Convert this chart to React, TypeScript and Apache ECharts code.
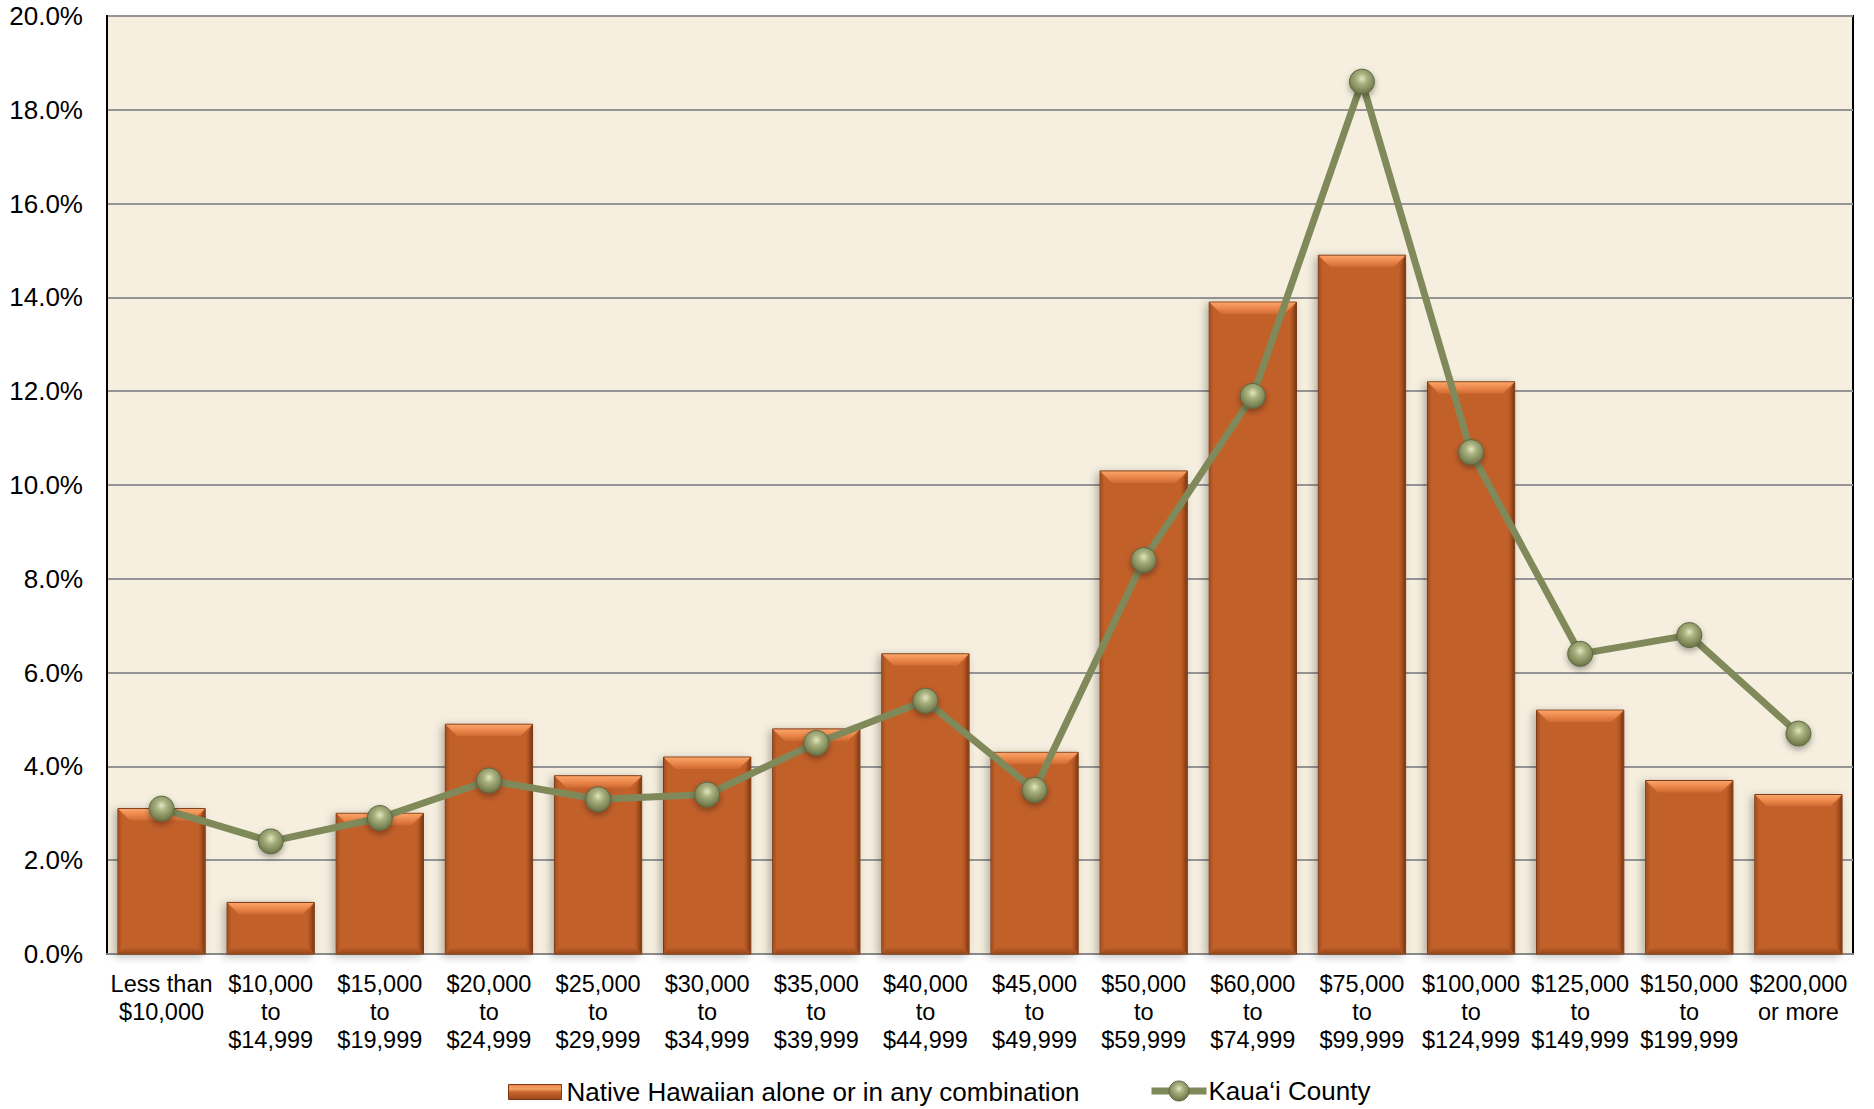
import React, { useEffect, useRef } from "react";
import * as echarts from "echarts";

const categories: string[] = [
  "Less than\n$10,000",
  "$10,000\nto\n$14,999",
  "$15,000\nto\n$19,999",
  "$20,000\nto\n$24,999",
  "$25,000\nto\n$29,999",
  "$30,000\nto\n$34,999",
  "$35,000\nto\n$39,999",
  "$40,000\nto\n$44,999",
  "$45,000\nto\n$49,999",
  "$50,000\nto\n$59,999",
  "$60,000\nto\n$74,999",
  "$75,000\nto\n$99,999",
  "$100,000\nto\n$124,999",
  "$125,000\nto\n$149,999",
  "$150,000\nto\n$199,999",
  "$200,000\nor more",
];

const nativeHawaiian: number[] = [3.1, 1.1, 3.0, 4.9, 3.8, 4.2, 4.8, 6.4, 4.3, 10.3, 13.9, 14.9, 12.2, 5.2, 3.7, 3.4];
const kauaiCounty: number[] = [3.1, 2.4, 2.9, 3.7, 3.3, 3.4, 4.5, 5.4, 3.5, 8.4, 11.9, 18.6, 10.7, 6.4, 6.8, 4.7];

const seriesNames = ["Native Hawaiian alone or in any combination", "Kaua\u2018i County"];
const yMin = 0;
const yMax = 20;
const yStep = 2;

const FONT = "'Liberation Sans', Arial, Helvetica, sans-serif";
const BAR = "#C2602A";
const LINE = "#80895A";

function lin(x2: number, y2: number, stops: [number, string][]) {
  return {
    type: "linear",
    x: 0,
    y: 0,
    x2,
    y2,
    colorStops: stops.map(([offset, color]) => ({ offset, color })),
  };
}

const markerFill = {
  type: "radial",
  x: 0.5,
  y: 0.38,
  r: 0.62,
  colorStops: [
    { offset: 0, color: "#E2E6BE" },
    { offset: 0.35, color: "#A9B17F" },
    { offset: 1, color: "#697245" },
  ],
};

function renderBevelBar(params: any, api: any) {
  const idx = api.value(0);
  const val = api.value(1);
  const top = api.coord([idx, val]);
  const base = api.coord([idx, 0]);
  const bw = api.size([1, 0])[0] * 0.8;
  const x = top[0] - bw / 2;
  const y = top[1];
  const h = base[1] - top[1];
  const b = Math.min(12, h / 2);
  const s = Math.min(7, h / 2);
  return {
    type: "group",
    children: [
      {
        type: "rect",
        shape: { x, y, width: bw, height: h },
        style: {
          fill: BAR,
          stroke: "#7A3914",
          lineWidth: 1,
          shadowBlur: 8,
          shadowColor: "rgba(0,0,0,0.28)",
          shadowOffsetX: -3,
          shadowOffsetY: 2,
        },
      },
      {
        type: "polygon",
        shape: { points: [[x + 0.5, y + 0.5], [x + bw - 0.5, y + 0.5], [x + bw - b, y + b], [x + b, y + b]] },
        style: { fill: lin(0, 1, [[0, "#F8A468"], [0.45, "#EE8A4D"], [1, "#CE6A32"]]) },
      },
      {
        type: "polygon",
        shape: { points: [[x + bw - 0.5, y + 0.5], [x + bw - 0.5, y + h - 0.5], [x + bw - s, y + h - s], [x + bw - s, y + b]] },
        style: { fill: lin(1, 0, [[0, BAR], [0.5, "#A9501F"], [1, "#7A3914"]]) },
      },
      {
        type: "polygon",
        shape: { points: [[x + 0.5, y + 0.5], [x + s, y + b], [x + s, y + h - s], [x + 0.5, y + h - 0.5]] },
        style: { fill: lin(1, 0, [[0, "#A44E1F"], [0.6, BAR], [1, BAR]]) },
      },
      {
        type: "polygon",
        shape: { points: [[x + 0.5, y + h - 0.5], [x + s, y + h - s], [x + bw - s, y + h - s], [x + bw - 0.5, y + h - 0.5]] },
        style: { fill: lin(0, 1, [[0, BAR], [1, "#9A481C"]]) },
      },
    ],
  };
}

export default function App() {
  const ref = useRef<HTMLDivElement>(null);

  useEffect(() => {
    if (!ref.current) return;
    const chart = echarts.init(ref.current, null, { renderer: "svg" });
    const barData = nativeHawaiian.map((v, i) => [i, v]);
    const legendText = { fontFamily: FONT, fontSize: 26, color: "#000" };

    chart.setOption({
      animation: false,
      backgroundColor: "#ffffff",
      textStyle: { fontFamily: FONT, color: "#000" },
      grid: {
        left: 107,
        right: 21,
        top: 16,
        bottom: 155,
        show: true,
        backgroundColor: "#F6EFDF",
        borderColor: "#000",
        borderWidth: 2,
        containLabel: false,
        outerBoundsMode: "none",
      },
      legend: [
        {
          left: 503,
          top: 1074,
          itemWidth: 53,
          itemHeight: 15,
          textStyle: legendText,
          data: [
            {
              name: seriesNames[0],
              icon: "rect",
              itemStyle: {
                color: lin(0, 1, [[0, "#E9854A"], [0.3, "#F6A266"], [0.5, "#C8652D"], [1, "#9A481C"]]),
                borderColor: "#7A3914",
                borderWidth: 1,
              },
            },
          ],
        },
        {
          left: 1143,
          top: 1073,
          itemWidth: 55,
          itemHeight: 25,
          itemGap: 0,
          textStyle: { ...legendText, padding: [0, 0, 0, -3] },
          data: [
            {
              name: seriesNames[1],
              lineStyle: { color: LINE, width: 7 },
              itemStyle: { color: markerFill, borderColor: "#5E6740", borderWidth: 1 },
            },
          ],
        },
      ],
      xAxis: {
        type: "category",
        data: categories,
        boundaryGap: true,
        axisLine: { show: true, lineStyle: { color: "#8a8a8a", width: 2 } },
        axisTick: { show: false },
        axisLabel: {
          interval: 0,
          margin: 16,
          fontFamily: FONT,
          fontSize: 23.5,
          lineHeight: 28,
          color: "#000",
          align: "center",
        },
      },
      yAxis: {
        type: "value",
        min: yMin,
        max: yMax,
        interval: yStep,
        axisLine: { show: true, lineStyle: { color: "#000", width: 2 } },
        axisTick: { show: false },
        axisLabel: {
          margin: 24,
          fontFamily: FONT,
          fontSize: 26,
          color: "#000",
          formatter: (v: number) => v.toFixed(1) + "%",
        },
        splitLine: { show: true, lineStyle: { color: "#959595", width: 2 } },
      },
      series: [
        {
          name: seriesNames[0],
          type: "custom",
          renderItem: renderBevelBar,
          encode: { x: 0, y: 1 },
          data: barData,
          itemStyle: { color: BAR },
          z: 2,
        },
        {
          name: seriesNames[1],
          type: "line",
          data: kauaiCounty,
          z: 5,
          symbol: "circle",
          symbolSize: 25,
          lineStyle: { color: LINE, width: 7 },
          itemStyle: {
            color: markerFill,
            borderColor: "#5E6740",
            borderWidth: 1,
            shadowBlur: 6,
            shadowColor: "rgba(0,0,0,0.35)",
            shadowOffsetY: 3,
          },
        },
      ],
    });

    return () => chart.dispose();
  }, []);

  return (
    <div
      ref={ref}
      style={{ position: "absolute", left: 0, top: 0, width: 1874, height: 1109, background: "#fff" }}
    />
  );
}
